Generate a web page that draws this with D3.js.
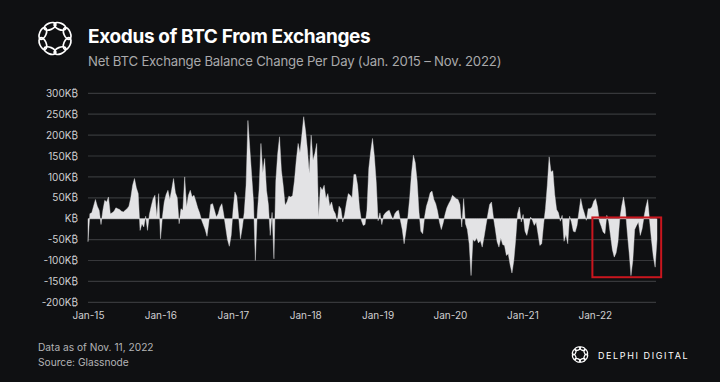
<!DOCTYPE html>
<html>
<head>
<meta charset="utf-8">
<script src="https://cdn.jsdelivr.net/npm/d3@7"></script>
<style>
  html, body { margin: 0; padding: 0; background: #0f1012; }
  svg { display: block; font-family: "Inter", "Noto Sans", sans-serif; }
</style>
</head>
<body>
<svg id="chart" width="720" height="382"></svg>
<script>
// net BTC exchange balance change (thousand BTC), evenly spaced samples Jan 2015 -> Nov 11 2022
var netChange = [
  -55, 12, 14, 30, 46, 30, 20, -14, 20, 44,
  40, 52, 12, 14, 18, 26, 24, 22, 18, 16,
  20, 24, 30, 50, 80, 96, 74, 60, -28, -12,
  -20, 6, -28, 10, 30, 48, 56, 4, 60, -48,
  4, 40, 58, 68, 46, 70, 96, 62, 50, -12,
  24, 20, 100, 28, 56, 68, 52, 56, 42, 26,
  14, -2, -14, -26, -42, -8, 34, 36, 20, 4,
  12, 28, 36, 10, -20, -50, -66,
  -40, 20, 64, 54, 4, -48, -20, 14, 80, 235,
  170, 105, 40, -100, 10, 70, 180, 110, 144, 68,
  34, -40, 15, -96, 90, 155, 196, 116, 78, 32,
  40, 54, 52, 55, 90, 140, 180, 158, 200, 244,
  210, 165, 108, 200, 140, 156, 180, 4, 76, 68,
  80, 48, 60, 30, 40, 20, 12, -8, 30, 24,
  -8, 10, 38, 60, 56, 50, 106, 106, 80, 26,
  -4, -16, -14, 20, 120, 160,
  192, 150, 88, -5, 14, -14, 8, 14, 18, 20,
  8, -2, 12, 18, 20, -4, -26, -60, -30, 4,
  50, 110, 152, 134, 90, 16, -30, -36, 4, 30,
  44, 62, 66, 46, 36, 18, -8, -26, -10, 10,
  26, 36, 44, 56, 52, 48, 46, 34, -20, 48,
  -12, -26, -60, -136, -50, -54, -46, -58, -52, -68,
  -44, -16, 10, 34, 40, 4, -24, -55, -68, -46,
  -62, -64, -88, -84, -110, -130, -100,
  -50, 12, 28, -8, 10, -30, -40, -20, 4, -4,
  -16, -8, -36, -64, -60, -14, 24, 80, 148, 112,
  115, 58, 22, 14, -6, 8, -54, -38, -60, 6,
  -8, -30, -32, -16, 16, 48, 26, 12, -4, 24,
  24, 28, 42, 48, 28, -6, -18, -32, -36, 8,
  -6, -40, -74, -92, -82, -56, 0, 30, 52, 24,
  -32, -80, -136, -100, -26, -16, -8, -40, -24, 4,
  28, 46, -4, -50, -90, -116, -50
];
var startDate = new Date(2015, 0, 1);
var endDate = new Date(2022, 10, 11);
var yTicks = [300, 250, 200, 150, 100, 50, 0, -50, -100, -150, -200];
var xTickYears = [2015, 2016, 2017, 2018, 2019, 2020, 2021, 2022];
// highlighted 2022 drawdown
var highlight = { from: new Date(2021, 11, 20), to: new Date(2022, 11, 2), low: -140, high: 3 };

var title = "Exodus of BTC From Exchanges";
var subtitle = "Net BTC Exchange Balance Change Per Day (Jan. 2015 \u2013 Nov. 2022)";
var notes = ["Data as of Nov. 11, 2022", "Source: Glassnode"];

var svg = d3.select("#chart");
svg.append("rect").attr("width", 720).attr("height", 382).attr("fill", "#0f1012");

var idxToDate = d3.scaleLinear().domain([0, netChange.length - 1]).range([startDate.getTime(), endDate.getTime()]);
var data = netChange.map(function(v, i){ return { date: new Date(idxToDate(i)), value: v }; });

var x = d3.scaleTime().domain([startDate, endDate]).range([88, 657]);
var y = d3.scaleLinear().domain([-200, 300]).range([302.3, 93.3]);

// gridlines
svg.append("g").selectAll("line").data(yTicks).enter().append("line")
  .attr("x1", 88).attr("x2", 656)
  .attr("y1", function(d){ return y(d); }).attr("y2", function(d){ return y(d); })
  .attr("stroke", function(d){ return d === 0 ? "#4a4b4f" : "#37383b"; })
  .attr("stroke-width", 1.2);

// y labels
svg.append("g").selectAll("text").data(yTicks).enter().append("text")
  .attr("x", 78).attr("y", function(d){ return y(d); })
  .attr("dy", "0.36em")
  .attr("text-anchor", "end")
  .attr("fill", "#cfcfd1")
  .style("font-size", "10px")
  .text(function(d){ return (d === 0 ? "" : d) + "K\u20BF"; });

// area
var area = d3.area()
  .x(function(d){ return x(d.date); })
  .y0(y(0))
  .y1(function(d){ return y(d.value); });
svg.append("path").datum(data)
  .attr("d", area)
  .attr("fill", "#e3e3e5")
  .attr("stroke", "#e3e3e5")
  .attr("stroke-width", 0.4);

// x axis
var xAxis = d3.axisBottom(x)
  .tickValues(xTickYears.map(function(yr){ return new Date(yr, 0, 1); }))
  .tickFormat(d3.timeFormat("%b-%y"))
  .tickSize(0).tickPadding(3);
var gx = svg.append("g").attr("transform", "translate(0,309)").call(xAxis);
gx.select(".domain").remove();
gx.selectAll("text").attr("fill", "#cfcfd1").style("font-size", "10px").style("font-family", "Inter, sans-serif");

// highlight box
svg.append("rect")
  .attr("x", x(highlight.from)).attr("y", y(highlight.high))
  .attr("width", x(highlight.to) - x(highlight.from))
  .attr("height", y(highlight.low) - y(highlight.high))
  .attr("fill", "none").attr("stroke", "#c9161e").attr("stroke-width", 2);

// logo: ring of loops
var drawLogo = function(cx, cy, s, sw){
  var g = svg.append("g").attr("transform", "translate(" + cx + "," + cy + ") scale(" + s + ")");
  d3.range(8).forEach(function(k){
    var a = k * 45 + 22.5;
    g.append("ellipse")
      .attr("cx", 0).attr("cy", -12.5).attr("rx", 6).attr("ry", 3.1)
      .attr("transform", "rotate(" + a + ")")
      .attr("fill", "none").attr("stroke", "#ffffff").attr("stroke-width", sw);
  });
};
drawLogo(55, 38.5, 1.05, 1.6);

svg.append("text").attr("x", 88).attr("y", 43)
  .attr("fill", "#ffffff").style("font-size", "19px").style("font-weight", 700)
  .style("letter-spacing", "-0.35px")
  .text(title);
svg.append("text").attr("x", 88).attr("y", 65.5)
  .attr("fill", "#a9a9ab").style("font-size", "13.2px")
  .style("letter-spacing", "-0.2px")
  .text(subtitle);

svg.append("g").selectAll("text").data(notes).enter().append("text")
  .attr("x", 38).attr("y", function(d, i){ return 351 + i * 15; })
  .attr("fill", "#b4b4b6").style("font-size", "10.2px")
  .text(function(d){ return d; });

drawLogo(580, 354.5, 0.5, 2.4);
svg.append("text").attr("x", 598).attr("y", 358.5)
  .attr("fill", "#ffffff").style("font-size", "9px").style("letter-spacing", "1.6px")
  .text("DELPHI DIGITAL");
</script>
</body>
</html>
